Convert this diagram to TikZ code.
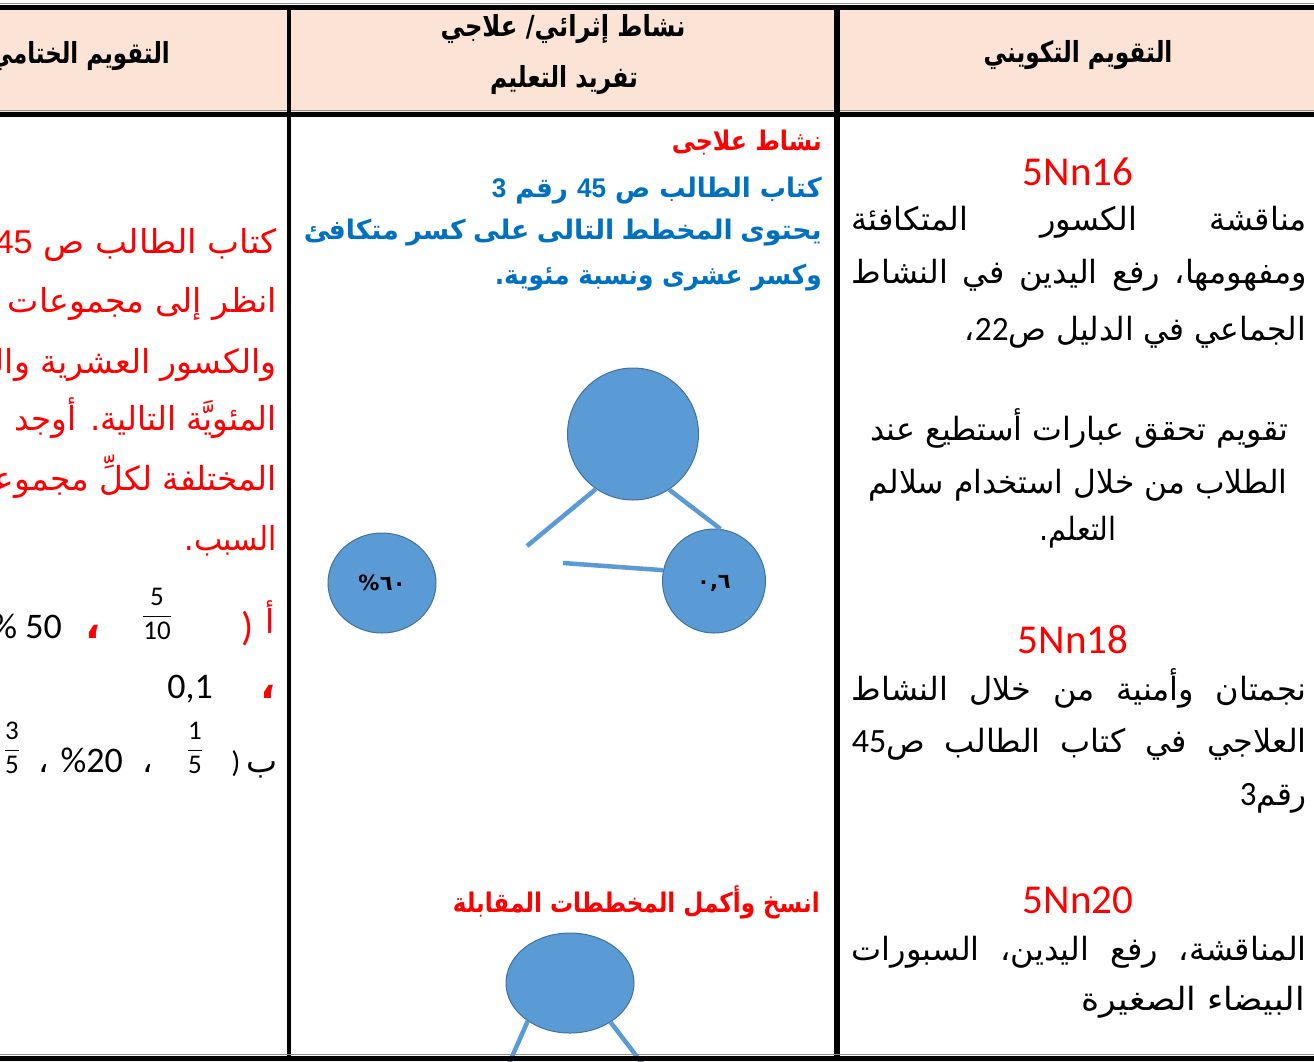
\documentclass[tikz,border=0pt]{standalone}
\usepackage{fontspec}
\usepackage{graphicx}
\usepackage{amsmath}
\usetikzlibrary{shapes.geometric}
\setmainfont{Carlito}
\newfontfamily\arabicfont[Script=Arabic]{DejaVu Sans}
\newfontfamily\latfont{Carlito}
\newfontfamily\arialfont{Liberation Sans}
\TeXXeTstate=1
\definecolor{hdrfill}{HTML}{FBE4D5}
\definecolor{bubfill}{HTML}{5B9BD5}
\definecolor{bubline}{HTML}{41719C}
\definecolor{myblue}{HTML}{0070C0}
\definecolor{rulegray}{HTML}{8C8C8C}
\newcommand\wsp{\hskip 0.28em plus 1fill\relax}
\newcommand\fitjust[2]{\setbox0=\hbox{\arabicfont #2}\ifdim\wd0>#1\relax\resizebox{#1}{\height}{\box0}\else\hbox to #1{\arabicfont #2}\fi}
\newcommand\fitto[2]{\resizebox{#1}{\height}{\arabicfont #2}}
\newcommand\dg[1]{{\latfont\fontsize{34}{40}\selectfont #1}}
\newcommand\myfrac[2]{$\genfrac{}{}{1.1pt}{0}{\hbox{#1}}{\hbox{#2}}$}
\tikzset{
  ar/.style={inner sep=0pt, anchor=base east},
  arc/.style={inner sep=0pt, anchor=base},
  hdrt/.style={font=\fontsize{29}{32}\selectfont\bfseries},
  rtxt/.style={font=\fontsize{32}{36}\selectfont},
  mtxt/.style={font=\fontsize{27}{30}\selectfont\bfseries},
  ltxt/.style={font=\fontsize{33}{38}\selectfont, text=red},
  numtxt/.style={font=\latfont\fontsize{36}{42}\selectfont, inner sep=0pt},
  fractxt/.style={font=\latfont\fontsize{27}{30}\selectfont, inner sep=0pt},
  stdcode/.style={font=\latfont\fontsize{41}{48}\selectfont, text=red, inner sep=0pt, anchor=base},
  bub/.style={ellipse, draw=bubline, fill=bubfill, line width=1pt, inner sep=0pt},
  link/.style={draw=bubfill, line width=4.5pt},
  bubtxt/.style={font=\arabicfont\fontsize{21}{24}\selectfont\bfseries, inner sep=0pt}
}
\begin{document}
\begin{tikzpicture}[x=1pt,y=-1pt]
\useasboundingbox (0,0) rectangle (1314,1061);
\clip (0,0) rectangle (1314,1061);
\fill[white] (0,0) rectangle (1314,1061);
\fill[hdrfill] (0,10) rectangle (1314,112);

% ---- header
\node[ar, hdrt] (h1) at (170,63) {\fitto{180pt}{\beginR التقويم الختامي\endR}};
\node[arc, hdrt] (h2) at (563,36) {\fitto{245pt}{\beginR نشاط إثرائي/ علاجي\endR}};
\node[arc, hdrt] (h3) at (564,87) {\fitto{148pt}{\beginR تفريد التعليم\endR}};
\node[arc, hdrt] (h4) at (1078,62) {\fitto{189pt}{\beginR التقويم التكويني\endR}};

% ---- left column
\node[ar, ltxt] (l1) at (277,253) {\fitto{282pt}{\beginR كتاب الطالب ص {\arialfont 45}\endR}};
\node[ar, ltxt] (l2) at (277,312) {\fitto{269pt}{\beginR انظر إلى مجموعات\endR}};
\node[ar, ltxt] (l3) at (277,373) {\fitto{282pt}{\beginR والكسور العشرية وال^^^^200d\endR}};
\node[ar, ltxt] (l4) at (277,430) {\fitto{262pt}{\beginR المئويَّة التالية. أوجد\endR}};
\node[ar, ltxt] (l5) at (277,490) {\fitto{282pt}{\beginR المختلفة لكلِّ مجموع^^^^200d\endR}};
\node[ar, ltxt] (l6) at (277,550) {\fitto{92pt}{\beginR السبب.\endR}};

\node[arc, ltxt] (a1) at (270,633) {\arabicfont\beginR أ\endR};
\node[arc, font=\latfont\fontsize{40}{44}\selectfont, text=red, inner sep=0pt] (p1) at (248,640) {)};
\node[fractxt] (fa) at (157,614) {\myfrac{5}{10}};
\node[arc, ltxt, font=\fontsize{40}{44}\selectfont\bfseries] (c1) at (93,638) {\arabicfont\beginR ،\endR};
\node[numtxt, anchor=base east] (n50) at (62,638) {\% 50};

\node[arc, ltxt, font=\fontsize{40}{44}\selectfont\bfseries] (c2) at (268,698) {\arabicfont\beginR ،\endR};
\node[numtxt, anchor=base] (n01) at (190,698) {0,1};

\node[arc, ltxt, text=black] (b1) at (262,772) {\arabicfont\beginR ب\endR};
\node[arc, font=\latfont\fontsize{30}{34}\selectfont, inner sep=0pt] (p2) at (236,772) {)};
\node[fractxt] (fb) at (195,748) {\myfrac{1}{5}};
\node[arc, ltxt, text=black] (c3) at (148,772) {\arabicfont\beginR ،\endR};
\node[numtxt, anchor=base east] (n20) at (123,772) {\%20};
\node[arc, ltxt, text=black] (c4) at (44,772) {\arabicfont\beginR ،\endR};
\node[fractxt] (fc) at (12,748) {\myfrac{3}{5}};

% ---- middle column
\node[ar, mtxt, text=red] (m1) at (822,150) {\fitto{150pt}{\beginR نشاط علاجى\endR}};
\node[ar, mtxt, text=myblue] (m2) at (822,197) {\fitto{330pt}{\beginR كتاب الطالب ص {\arialfont 45} رقم {\arialfont 3}\endR}};
\node[ar, mtxt, text=myblue] (m3) at (822,239) {\fitjust{518pt}{\beginR يحتوى\wsp المخطط\wsp التالى\wsp على\wsp كسر\wsp متكافئ\endR}};
\node[ar, mtxt, text=myblue] (m4) at (822,284) {\fitto{327pt}{\beginR وكسر عشرى ونسبة مئوية.\endR}};
\node[ar, mtxt, text=red] (m5) at (820,912) {\fitto{367pt}{\beginR انسخ وأكمل المخططات المقابلة\endR}};

% diagram 1
\node[bub, minimum width=131pt, minimum height=132pt] (big) at (633,434) {};
\node[bub, minimum width=108pt, minimum height=100pt] (lft) at (382,583) {};
\node[bub, minimum width=103pt, minimum height=104pt] (rgt) at (714,581) {};
\node[bubtxt] (tl) at (382,583) {\hbox{\%\kern0.5pt\relax ٦٠}};
\node[bubtxt] (tr) at (714,583) {٠,٦};
\coordinate (f1) at (527,546);
\coordinate (f2) at (563,563);
\draw[link] (big.-124) -- (f1);
\draw[link] (big.-57) -- (rgt.83);
\draw[link] (f2) -- (rgt.168);

% diagram 2
\node[bub, minimum width=128pt, minimum height=100pt] (bot) at (570,983) {};
\coordinate (g1) at (504,1075);
\coordinate (g2) at (651,1075);
\draw[link] (bot.222) -- (g1);
\draw[link] (bot.-44) -- (g2);

% ---- right column
\node[stdcode] (k1) at (1078,185) {5Nn16};
\node[ar, rtxt] (r1) at (1307,230) {\fitjust{455pt}{\beginR مناقشة\wsp الكسور\wsp المتكافئة\endR}};
\node[ar, rtxt] (r2) at (1307,283) {\fitjust{455pt}{\beginR ومفهومها،\wsp رفع\wsp اليدين\wsp في\wsp النشاط\endR}};
\node[ar, rtxt] (r3) at (1306,340) {\fitto{341pt}{\beginR الجماعي في الدليل ص\dg{22}،\endR}};
\node[arc, rtxt] (r4) at (1079,440) {\fitto{418pt}{\beginR تقويم تحقق عبارات أستطيع عند\endR}};
\node[arc, rtxt] (r5) at (1078,493) {\fitto{419pt}{\beginR الطلاب من خلال استخدام سلالم\endR}};
\node[arc, rtxt] (r6) at (1078,540) {\fitto{77pt}{\beginR التعلم.\endR}};

\node[stdcode] (k2) at (1073,653) {5Nn18};
\node[ar, rtxt] (r7) at (1307,700) {\fitjust{455pt}{\beginR نجمتان\wsp وأمنية\wsp من\wsp خلال\wsp النشاط\endR}};
\node[ar, rtxt] (r8) at (1307,752) {\fitjust{455pt}{\beginR العلاجي\wsp في\wsp كتاب\wsp الطالب\wsp ص\dg{45}\endR}};
\node[ar, rtxt] (r9) at (1307,805) {\fitto{67pt}{\beginR رقم\dg{3}\endR}};

\node[stdcode] (k3) at (1078,913) {5Nn20};
\node[ar, rtxt] (r10) at (1307,960) {\fitjust{455pt}{\beginR المناقشة،\wsp رفع\wsp اليدين،\wsp السبورات\endR}};
\node[ar, rtxt] (r11) at (1305,1010) {\fitto{223pt}{\beginR البيضاء الصغيرة\endR}};

% ---- table rules
\draw[rulegray, line width=1pt] (0,3) -- (1314,3);
\draw[black, line width=5pt] (0,7.5) -- (1314,7.5);
\draw[rulegray, line width=1pt] (0,110) -- (1314,110);
\draw[black, line width=5pt] (0,114.5) -- (1314,114.5);
\draw[black, line width=3.5pt] (289,7) -- (289,1061);
\draw[black, line width=5.5pt] (837,7) -- (837,1061);
\draw[rulegray, line width=1pt] (0,1054.5) -- (1314,1054.5);
\draw[black, line width=5.5pt] (0,1058.5) -- (1314,1058.5);
\end{tikzpicture}
\end{document}
